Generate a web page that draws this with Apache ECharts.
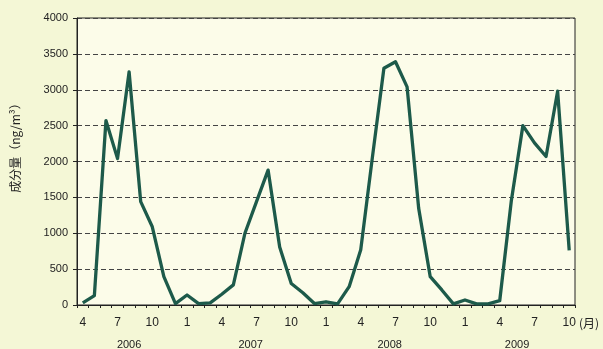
<!DOCTYPE html>
<html>
<head>
<meta charset="utf-8">
<script src="https://cdn.jsdelivr.net/npm/echarts@6/dist/echarts.min.js"></script>
<style>
html,body{margin:0;padding:0;background:#f4f7d6;}
#chart{width:603px;height:349px;}
</style>
</head>
<body>
<div id="chart"></div>
<script>
// Month labels (Apr 2006 – Oct 2009)
const months = [4,5,6,7,8,9,10,11,12,
  1,2,3,4,5,6,7,8,9,10,11,12,
  1,2,3,4,5,6,7,8,9,10,11,12,
  1,2,3,4,5,6,7,8,9,10];
const years = ['2006','2007','2008','2009'];
const values = [30,130,2570,2040,3250,1440,1090,395,20,
  140,20,30,150,280,1000,1440,1880,810,300,170,20,
  45,15,255,770,2050,3300,3390,3040,1350,395,210,15,
  70,15,15,60,1450,2500,2260,2070,2980,760];
const yTicks = [0,500,1000,1500,2000,2500,3000,3500,4000];
const yName = '成分量（ng/m³）';
const monthUnit = '(月)';

const chart = echarts.init(document.getElementById('chart'));
const font = 'Arial, "Liberation Sans", sans-serif';
chart.setOption({
  backgroundColor: '#f4f7d6',
  animation: false,
  grid: {left: 77, right: 28, top: 18, bottom: 44, show: true,
    backgroundColor: '#fcfce9', borderColor: '#222', borderWidth: 1},
  xAxis: {
    type: 'category', data: months.map(String), boundaryGap: true,
    axisLine: {lineStyle: {color: '#222', width: 1}},
    axisTick: {show: true, interval: 0, length: 3, lineStyle: {color: '#222'}},
    axisLabel: {interval: 2, margin: 12, fontSize: 12, color: '#222', fontFamily: font}
  },
  yAxis: {
    type: 'value', min: yTicks[0], max: yTicks[yTicks.length-1], interval: 500,
    axisLine: {show: true, lineStyle: {color: '#222', width: 1}},
    axisTick: {show: true, length: 4, lineStyle: {color: '#222'}},
    axisLabel: {fontSize: 11, margin: 9, color: '#222', fontFamily: font,
      formatter: v => String(v)},
    splitLine: {show: true, lineStyle: {type: [5,3], color: '#444', width: 1}}
  },
  series: [{
    type: 'line', data: values, symbol: 'none',
    lineStyle: {color: '#1d5a4a', width: 3.3, join: 'round'}
  }]
});

// Year labels centred under each year's months
const graphics = [];
let yi = 0, start = 0;
for (let i = 1; i <= months.length; i++) {
  if (i === months.length || months[i] === 1) {
    const x0 = chart.convertToPixel({xAxisIndex: 0}, start);
    const x1 = chart.convertToPixel({xAxisIndex: 0}, i - 1);
    graphics.push({type: 'text', x: (x0 + x1) / 2, y: 345,
      style: {text: years[yi], fill: '#222', font: '11px ' + font, textAlign: 'center', textVerticalAlign: 'middle'}});
    yi++; start = i;
  }
}
graphics.push({type: 'text', x: 579, y: 323,
  style: {text: monthUnit, fill: '#222', font: '12px "Noto Sans CJK JP", ' + font, textAlign: 'left', textVerticalAlign: 'middle'}});
graphics.push({type: 'text', x: 15, y: 145, rotation: Math.PI / 2,
  style: {text: yName, fill: '#222', font: '12px "Noto Sans CJK JP", sans-serif', textAlign: 'center', textVerticalAlign: 'middle'}});
chart.setOption({graphic: graphics});
</script>
</body>
</html>
